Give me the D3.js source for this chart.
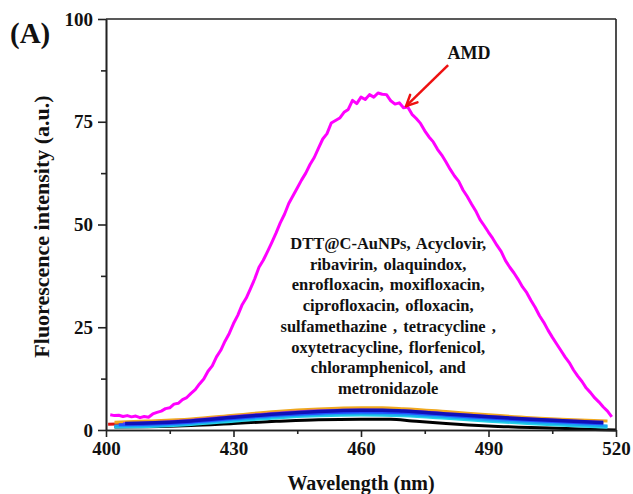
<!DOCTYPE html>
<html><head><meta charset="utf-8">
<script src="https://cdn.jsdelivr.net/npm/d3@7"></script>
<style>
html,body{margin:0;padding:0;background:#fff;}
svg text{font-family:"Liberation Serif","Times New Roman",serif;font-weight:bold;fill:#111;}
</style></head>
<body><svg id="c" width="633" height="494"></svg>
<script>
// ---------- data ----------
const xTicks = [400, 430, 460, 490, 520];
const xMinorTicks = [415, 445, 475, 505];
const yTicks = [0, 25, 50, 75, 100];
const yMinorTicks = [12.5, 37.5, 62.5, 87.5];

// AMD spectrum (magenta), wavelength 401..519 nm step 1
const amdStart = 401;
const amdValues = [3.7,3.5,3.6,3.3,3.5,3.2,3.4,3.0,3.3,3.1,
 3.9,4.3,4.6,5.2,5.4,6.3,6.5,7.4,7.9,8.9,
 9.8,11.2,12.4,14.3,15.6,17.8,19.4,21.6,23.5,25.9,
 27.9,30.4,32.1,34.4,36.8,39.6,41.3,43.4,45.6,47.9,
 50.4,52.5,55.1,57.0,58.9,60.8,62.5,64.6,66.3,68.6,
 70.8,72.1,74.7,75.3,75.9,77.3,78.0,80.2,79.4,81.0,
 80.4,81.6,81.0,82.0,81.7,81.6,80.1,79.3,79.6,78.4,
 78.6,76.8,75.8,74.6,72.8,71.3,70.1,68.3,66.9,65.2,
 63.4,61.8,60.5,58.4,56.8,55.0,53.3,51.2,49.7,48.1,
 46.6,44.9,43.4,41.2,39.6,38.2,36.6,34.8,33.4,31.5,
 29.8,27.8,26.2,24.3,22.6,21.0,19.4,17.8,16.4,14.6,
 13.1,11.8,10.2,9.1,7.8,6.8,5.6,4.6,3.2];

// Other analytes (low curves)
const redWl    = [400.5,405,410,420,430,440,450,460,465,470,480,490,500,510,517];
const redVal   = [1.4,1.5,1.6,2.0,2.8,3.6,4.2,4.5,4.5,4.3,3.6,2.9,2.3,1.8,1.5];
const blackWl  = [402,410,420,430,440,450,460,467,472,480,490,500,510,520];
const blackVal = [0.7,0.8,1.1,1.6,2.1,2.5,2.6,2.6,2.2,1.6,1.0,0.6,0.3,0.0];
const cyanWl   = [402,410,420,430,440,450,460,470,480,490,500,510,518];
const cyanVal  = [0.8,0.9,1.4,2.2,3.0,3.5,3.7,3.5,2.9,2.2,1.6,1.1,0.7];
const skyWl    = [402,410,420,430,440,450,460,470,480,490,500,510,518];
const skyVal   = [1.0,1.1,1.6,2.5,3.3,3.8,4.0,3.8,3.2,2.5,1.9,1.4,1.0];
const orangeWl = [402,405,410,420,430,440,450,460,465,470,480,490,500,510,518];
const orangeVal= [1.9,2.0,2.2,2.7,3.6,4.5,5.1,5.4,5.4,5.2,4.5,3.7,3.0,2.5,2.2];
const purpleWl = [404,410,420,430,440,450,460,470,480,490,500,510,517];
const purpleVal= [1.7,1.9,2.5,3.4,4.2,4.8,5.0,4.8,4.1,3.4,2.8,2.3,2.0];
const blueWl   = [403,410,420,430,440,450,460,470,480,490,500,510,517];
const blueVal  = [1.3,1.4,1.9,2.8,3.6,4.1,4.4,4.2,3.6,2.9,2.3,1.8,1.5];
const navyWl   = [404.5,410,420,430,440,450,460,465,470,480,490,500,510,517];
const navyVal  = [1.6,1.7,2.2,3.1,3.9,4.5,4.8,4.8,4.6,3.9,3.2,2.6,2.1,1.8];

const listLines = ["DTT@C-AuNPs, Acyclovir,","ribavirin, olaquindox,","enrofloxacin, moxifloxacin,",
 "ciprofloxacin, ofloxacin,","sulfamethazine , tetracycline ,","oxytetracycline, florfenicol,",
 "chloramphenicol, and","metronidazole"];

// ---------- chart ----------
const svg = d3.select("#c");
const x = d3.scaleLinear().domain([400,520]).range([106,616]);
const y = d3.scaleLinear().domain([0,100]).range([430,19]);

const zip = (a,b)=>a.map((v,i)=>[v,b[i]]);
const line = d3.line().x(d=>x(d[0])).y(d=>y(d[1])).curve(d3.curveMonotoneX);
const lineRaw = d3.line().x(d=>x(d[0])).y(d=>y(d[1]));

const lows = [
 {wl:redWl, v:redVal, c:"#e01010", w:3},
 {wl:blackWl, v:blackVal, c:"#000000", w:3},
 {wl:cyanWl, v:cyanVal, c:"#22d3e6", w:3.5},
 {wl:skyWl, v:skyVal, c:"#1aa6f0", w:3},
 {wl:orangeWl, v:orangeVal, c:"#f0a81e", w:3},
 {wl:purpleWl, v:purpleVal, c:"#b040c0", w:2},
 {wl:blueWl, v:blueVal, c:"#2050ff", w:3},
 {wl:navyWl, v:navyVal, c:"#1010b8", w:3.5}
];
lows.forEach(s=>{
  svg.append("path").attr("d", line(zip(s.wl,s.v))).attr("fill","none")
    .attr("stroke", s.c).attr("stroke-width", s.w).attr("stroke-linejoin","round");
});

const amd = amdValues.map((v,i)=>[amdStart+i, v]);
svg.append("path").attr("d", lineRaw(amd)).attr("fill","none")
  .attr("stroke","#ff00ff").attr("stroke-width",3).attr("stroke-linejoin","round");

// axes
svg.append("g").attr("transform",`translate(0,${y(0)})`)
  .call(d3.axisBottom(x).tickValues(xTicks).tickSize(7).tickSizeOuter(0).tickPadding(5));
svg.append("g").attr("transform",`translate(0,${y(0)})`)
  .call(d3.axisBottom(x).tickValues(xMinorTicks).tickSize(4).tickSizeOuter(0).tickFormat(""));
svg.append("g").attr("transform",`translate(${x(400)},0)`)
  .call(d3.axisLeft(y).tickValues(yTicks).tickSize(8).tickSizeOuter(0).tickPadding(5));
svg.append("g").attr("transform",`translate(${x(400)},0)`)
  .call(d3.axisLeft(y).tickValues(yMinorTicks).tickSize(5).tickSizeOuter(0).tickFormat(""));
svg.selectAll(".domain, .tick line").attr("stroke","#222").attr("stroke-width",1.6);
svg.selectAll(".tick text").attr("font-size",19).attr("fill","#111")
  .attr("font-family",'"Liberation Serif","Times New Roman",serif').attr("font-weight","bold");

// frame top & right
svg.append("line").attr("x1",x(400)).attr("x2",x(520)).attr("y1",y(100)).attr("y2",y(100))
  .attr("stroke","#222").attr("stroke-width",1.6);
svg.append("line").attr("x1",x(520)).attr("x2",x(520)).attr("y1",y(100)).attr("y2",y(0))
  .attr("stroke","#222").attr("stroke-width",1.6);

// titles
svg.append("text").attr("x",(x(400)+x(520))/2).attr("y",490).attr("text-anchor","middle")
  .attr("font-size",20).text("Wavelength (nm)");
svg.append("text").attr("transform",`translate(49,${(y(0)+y(100))/2 + 2}) rotate(-90)`)
  .attr("text-anchor","middle").attr("font-size",22).text("Fluorescence intensity (a.u.)");
svg.append("text").attr("x",10).attr("y",43).attr("font-size",29).text("(A)");

// AMD annotation
svg.append("text").attr("x",x(485.4)).attr("y",y(90.3)).attr("text-anchor","middle")
  .attr("font-size",18).text("AMD");
const tail=[x(480.5),y(88.8)], tip=[x(470.6),y(78.8)];
svg.append("line").attr("x1",tail[0]).attr("y1",tail[1]).attr("x2",tip[0]).attr("y2",tip[1])
  .attr("stroke","#ee1111").attr("stroke-width",2.5);
const ang = Math.atan2(tip[1]-tail[1], tip[0]-tail[0]);
[0.45,-0.45].forEach(da=>{
  const a = ang+Math.PI+da;
  svg.append("line").attr("x1",tip[0]).attr("y1",tip[1])
    .attr("x2",tip[0]+12*Math.cos(a)).attr("y2",tip[1]+12*Math.sin(a))
    .attr("stroke","#ee1111").attr("stroke-width",2.5).attr("stroke-linecap","round");
});

// list text
const lt = svg.append("text").attr("text-anchor","middle").attr("font-size",16.5).attr("word-spacing",2);
listLines.forEach((t,i)=>{
  lt.append("tspan").attr("x",x(466.4)).attr("y",249+i*20.7).text(t);
});
</script></body></html>
